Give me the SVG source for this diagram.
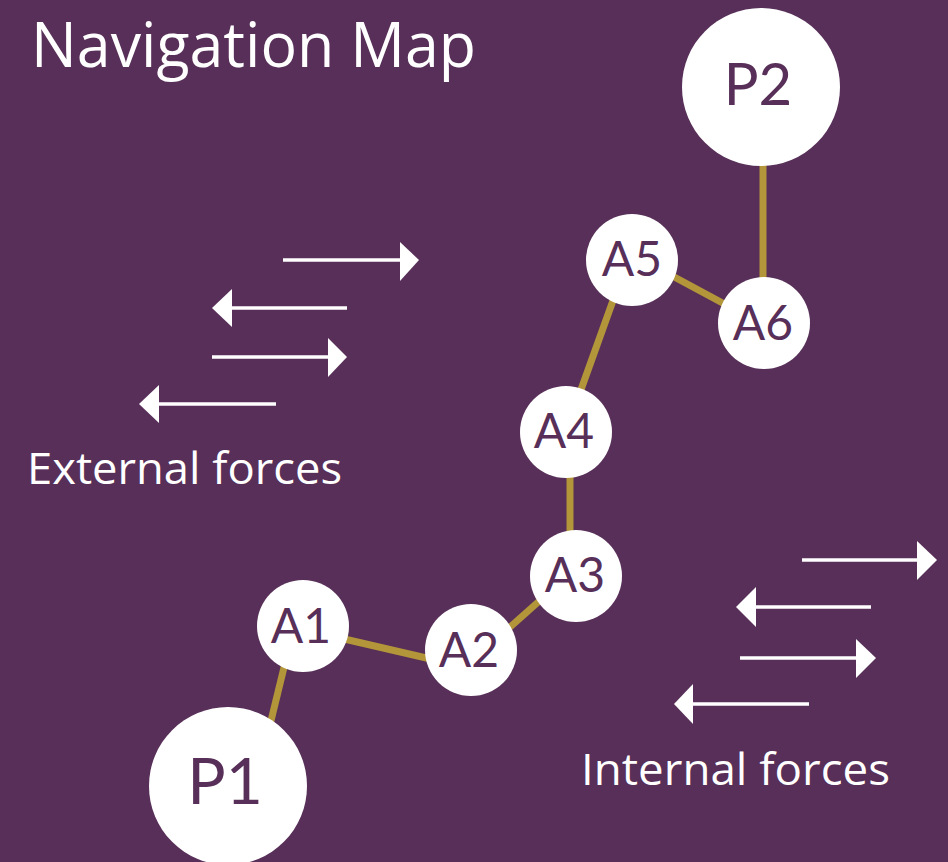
<svg xmlns="http://www.w3.org/2000/svg" width="948" height="862" viewBox="0 0 948 862">
<style>
.bg{fill:#572F58}
.n{fill:#FFFFFF}
.e{stroke:#B3963A;stroke-width:7;fill:none}
.t{font-family:Lato,"Open Sans",sans-serif;fill:#572F58;text-anchor:middle}
.w{font-family:"Open Sans",Lato,sans-serif;fill:#FFFFFF}
.a{stroke:#FFFFFF;stroke-width:3.5;fill:none}
.h{fill:#FFFFFF}
</style>
<rect class="bg" x="0" y="0" width="948" height="862"/>
<g id="connectors">
<line class="e" x1="268" y1="733" x2="288" y2="651"/>
<line class="e" x1="340" y1="638" x2="435" y2="660"/>
<line class="e" x1="500" y1="636" x2="545" y2="596"/>
<line class="e" x1="570" y1="540" x2="570" y2="470"/>
<line class="e" x1="578" y1="398" x2="615" y2="295"/>
<line class="e" x1="665" y1="272" x2="730" y2="307"/>
<line class="e" x1="763" y1="290" x2="763" y2="150"/>
</g>
<g id="P1"><circle class="n" cx="228" cy="786" r="79"/><text class="t" x="225" y="804" font-size="64">P1</text></g>
<g id="P2"><circle class="n" cx="761" cy="87" r="79"/><text class="t" x="758" y="105" font-size="58">P2</text></g>
<g id="A1"><circle class="n" cx="303" cy="626" r="46"/><text class="t" x="301" y="643" font-size="48">A1</text></g>
<g id="A2"><circle class="n" cx="471" cy="650" r="46"/><text class="t" x="469" y="667" font-size="48">A2</text></g>
<g id="A3"><circle class="n" cx="576" cy="576" r="46"/><text class="t" x="575" y="592" font-size="48">A3</text></g>
<g id="A4"><circle class="n" cx="566" cy="432" r="46"/><text class="t" x="564" y="448" font-size="48">A4</text></g>
<g id="A5"><circle class="n" cx="632" cy="260" r="46"/><text class="t" x="632" y="276" font-size="48">A5</text></g>
<g id="A6"><circle class="n" cx="764" cy="323" r="46"/><text class="t" x="763" y="340" font-size="48">A6</text></g>
<g id="external-forces">
<line class="a" x1="283" y1="260" x2="402" y2="260"/><polygon class="h" points="400,242 419,260 400,281"/>
<line class="a" x1="230" y1="308" x2="347" y2="308"/><polygon class="h" points="232,289 212,308 232,327"/>
<line class="a" x1="212" y1="357" x2="330" y2="357"/><polygon class="h" points="328,338 347,357 328,377"/>
<line class="a" x1="157" y1="404" x2="276" y2="404"/><polygon class="h" points="159,385 139,404 159,423"/>
<text class="w" x="27" y="484" font-size="44" textLength="315" lengthAdjust="spacingAndGlyphs">External forces</text>
</g>
<g id="internal-forces">
<line class="a" x1="802" y1="560" x2="919" y2="560"/><polygon class="h" points="917,541 937,560 917,580"/>
<line class="a" x1="754" y1="607" x2="871" y2="607"/><polygon class="h" points="756,587 736,607 756,627"/>
<line class="a" x1="740" y1="658" x2="858" y2="658"/><polygon class="h" points="856,639 876,658 856,678"/>
<line class="a" x1="691" y1="704" x2="809" y2="704"/><polygon class="h" points="693,684 674,704 693,724"/>
<text class="w" x="581" y="785" font-size="44" textLength="309" lengthAdjust="spacingAndGlyphs">Internal forces</text>
</g>
<text class="w" x="31" y="67" font-size="62" textLength="445" lengthAdjust="spacingAndGlyphs">Navigation Map</text>
</svg>
